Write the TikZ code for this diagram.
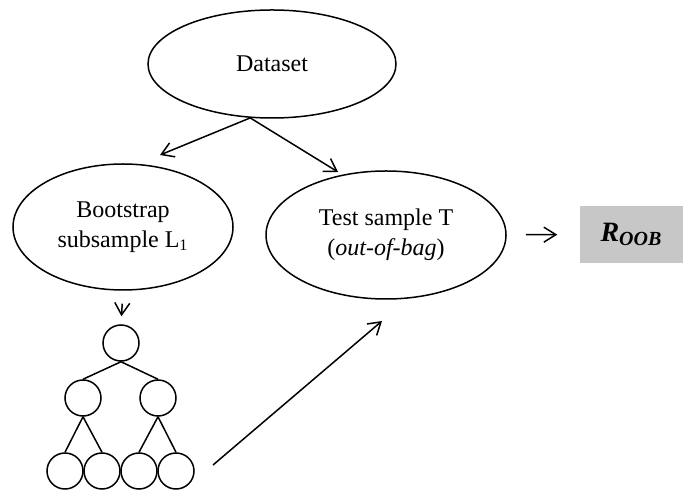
\documentclass[tikz,border=0pt]{standalone}
\usepackage{fontspec}
\setmainfont{Liberation Serif}
\usetikzlibrary{shapes.geometric,arrows.meta}

\begin{document}
\begin{tikzpicture}[x=0.5pt, y=-0.5pt, line width=0.75pt,
        >={Straight Barb[length=6pt,width=7.5pt]},
        font=\fontsize{12}{15}\selectfont]
            \useasboundingbox (0,0) rectangle (683,490);

            \node[draw, ellipse, minimum width=124pt, minimum height=54pt] (data) at (272,64) {Dataset};
            \node[draw, ellipse, minimum width=110pt, minimum height=63pt, align=center] (boot) at (123,227) {Bootstrap\\subsample L\textsubscript{1}};
            \node[draw, ellipse, minimum width=120pt, minimum height=64pt, align=center] (test) at (386,235) {Test sample T\\(\textit{out-of-bag})};
            \node[fill=black!22, minimum width=51.5pt, minimum height=28.5pt] (oob) at (631.5,234.5)
                {\fontsize{14}{16}\selectfont\textbf{\textit{R}}\textsubscript{\fontsize{10}{12}\selectfont\textbf{\textit{OOB}}}};

            % tree
            \node[draw, circle, minimum size=18pt, inner sep=0pt] (r) at (121,343) {};
            \node[draw, circle, minimum size=18pt, inner sep=0pt] (a) at (83,398) {};
            \node[draw, circle, minimum size=18pt, inner sep=0pt] (b) at (158,398) {};
            \node[draw, circle, minimum size=18pt, inner sep=0pt] (a1) at (65,471) {};
            \node[draw, circle, minimum size=18pt, inner sep=0pt] (a2) at (102,471) {};
            \node[draw, circle, minimum size=18pt, inner sep=0pt] (b1) at (139,471) {};
            \node[draw, circle, minimum size=18pt, inner sep=0pt] (b2) at (176,471) {};

            \draw (r.south) -- (a.north);
            \draw (r.south) -- (b.north);
            \draw (a.south) -- (a1.north);
            \draw (a.south) -- (a2.north);
            \draw (b.south) -- (b1.north);
            \draw (b.south) -- (b2.north);

            \coordinate (p1) at (160,155);
            \coordinate (p2) at (338,172);
            \coordinate (q1) at (213,465);
            \coordinate (q2) at (382,321);

            \draw (data.248)[->] -- (p1);
            \draw (data.248)[->] -- (p2);
            \draw (boot.south)[->, shorten <=6.5pt, shorten >=4pt] -- (r.north);
            \draw (q1)[->] -- (q2);
            \draw (test)[->, shorten <=9.5pt, shorten >=11pt] -- (oob);
        \end{tikzpicture}
\end{document}
